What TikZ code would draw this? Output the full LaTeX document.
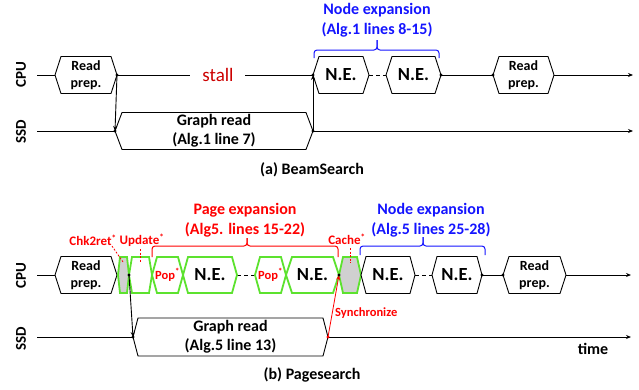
\documentclass[tikz,border=0pt]{standalone}
\usepackage{fontspec}
\setmainfont{Carlito}
\usetikzlibrary{arrows.meta}
\definecolor{gr}{RGB}{92,226,46}
\definecolor{rd}{RGB}{255,0,0}
\definecolor{drd}{RGB}{204,0,0}
\definecolor{bl}{RGB}{20,20,255}
\definecolor{gy}{RGB}{208,208,208}
\tikzset{
  hexblack/.style={draw=black, line width=0.9pt, fill=white},
  hexgreen/.style={draw=gr, line width=1.8pt, fill=white, line join=miter},
  hexgray/.style={draw=gr, line width=1.8pt, fill=gy},
  txt/.style={font=\bfseries\fontsize{14}{16.5}\selectfont, align=center, inner sep=0pt},
  netxt/.style={font=\bfseries\fontsize{18.5}{19}\selectfont, inner sep=0pt},
  grtxt/.style={font=\bfseries\fontsize{16}{19}\selectfont, align=center, inner sep=0pt},
  poptxt/.style={font=\bfseries\fontsize{12.5}{14}\selectfont, text=rd, inner sep=0pt},
  tl/.style={line width=0.9pt},
  arr/.style={line width=0.9pt, -{Stealth[length=5pt,width=4pt]}},
  dot/.style={circle, fill=black, inner sep=0pt, minimum size=3.2pt},
  axlbl/.style={font=\bfseries\fontsize{15}{16}\selectfont, rotate=90, inner sep=0pt},
  captxt/.style={font=\bfseries\fontsize{16}{18}\selectfont, inner sep=0pt},
  bigtitle/.style={font=\bfseries\fontsize{16}{20}\selectfont, align=center, inner sep=0pt},
  smallred/.style={font=\bfseries\fontsize{13}{14}\selectfont, text=rd, inner sep=0pt},
  reddash/.style={draw=rd, line width=0.8pt, dash pattern=on 2pt off 1.5pt},
  bracestyle/.style={line width=1pt, rounded corners=3pt},
  dashline/.style={line width=0.9pt, dash pattern=on 4pt off 3pt},
}
% #1 name, #2 xL, #3 xR, #4 yc, #5 half height, #6 depth, #7 style
\newcommand\hexa[7]{%
  \path[#7] (#2,#4) -- ({#2+#6},{#4-#5}) -- ({#3-#6},{#4-#5}) -- (#3,#4) -- ({#3-#6},{#4+#5}) -- ({#2+#6},{#4+#5}) -- cycle;
  \coordinate (#1-L) at (#2,#4);
  \coordinate (#1-R) at (#3,#4);
  \coordinate (#1) at ({(#2+#3)/2},#4);
}
% brace: #1 x1, #2 x2, #3 xc, #4 y horizontal, #5 y end, #6 y tip, #7 colour
\newcommand\tbrace[7]{%
  \draw[bracestyle, #7] (#1,#5) -- (#1,#4) -- (#3,#4) -- (#3,#6);
  \draw[bracestyle, #7] (#2,#5) -- (#2,#4) -- (#3,#4) -- (#3,#6);
}
\begin{document}
\begin{tikzpicture}[x=1pt, y=-1pt]
\useasboundingbox (0,0) rectangle (639,389);

% ================= (a) BeamSearch =================
\node[axlbl] (cpuA) at (21,75) {CPU};
\node[axlbl] (ssdA) at (21,132) {SSD};
\coordinate (cpuAs) at (37,75);
\coordinate (cpuAe) at (633,75);
\coordinate (ssdAs) at (37,131);
\coordinate (ssdAe) at (633,131);

\node[font=\fontsize{19}{20}\selectfont, text=drd, inner xsep=11pt, inner ysep=0pt, anchor=base] (stall) at (218,81) {stall};
\coordinate (stallW) at (190,75);
\coordinate (stallE) at (245,75);

\draw[tl] (cpuAs) -- (55,75);
\draw[tl] (117,75) -- (stallW);
\draw[tl] (stallE) -- (313,75);
\draw[dashline] (369,75) -- (386,75);
\draw[tl] (441,75) -- (493,75);
\draw[arr] (554,75) -- (cpuAe);
\draw[tl] (ssdAs) -- (115,131);
\draw[arr] (313,131) -- (ssdAe);

\hexa{rpA}{55}{117}{75}{18.5}{6}{hexblack}
\node[txt] (rpAt) at (rpA) {Read\\prep.};
\hexa{grA}{115}{313}{131}{18.5}{7}{hexblack}
\node[grtxt] (grAt) at (grA) {Graph read\\(Alg.1 line 7)};
\hexa{neA1}{313}{369}{75}{18.5}{6}{hexblack}
\node[netxt] (neA1t) at (neA1) {N.E.};
\hexa{neA2}{386}{441}{75}{18.5}{6}{hexblack}
\node[netxt] (neA2t) at (neA2) {N.E.};
\hexa{rpA2}{493}{554}{75}{18.5}{6}{hexblack}
\node[txt] (rpA2t) at (rpA2) {Read\\prep.};

\draw[arr] (rpA-R) -- (grA-L);
\draw[arr] (grA-R) -- (neA1-L);
\foreach \p in {rpA-R, grA-L, grA-R, neA1-L, neA2-R, rpA2-L}
  \node[dot] at (\p) {};

\tbrace{314}{439}{377}{50}{58}{40}{bl}
\node[bigtitle, text=bl] (neAlbl) at (377,20) {Node expansion\\(Alg.1 lines 8-15)};

\node[captxt] (capA) at (312,170) {(a) BeamSearch};

% ================= (b) Pagesearch =================
\node[axlbl] (cpuB) at (21,276) {CPU};
\node[axlbl] (ssdB) at (21,339) {SSD};
\coordinate (cpuBs) at (37,275);
\coordinate (cpuBe) at (631,275);
\coordinate (ssdBs) at (37,337);
\coordinate (ssdBe) at (631,337);

\draw[tl] (cpuBs) -- (55,275);
\draw[dashline] (237,275) -- (255,275);
\draw[dashline] (415,275) -- (432,275);
\draw[tl] (482,275) -- (503,275);
\draw[arr] (566,275) -- (cpuBe);
\draw[tl] (ssdBs) -- (133,337);
\draw[arr] (328,337) -- (ssdBe);

\hexa{rpB}{55}{117}{275}{18.5}{6}{hexblack}
\node[txt] (rpBt) at (rpB) {Read\\prep.};
\hexa{chk}{118}{129}{275}{18}{2}{hexgray}
\hexa{upd}{129}{152}{275}{18}{3}{hexgreen}
\hexa{popA}{152}{183}{275}{18}{5}{hexgreen}
\node[poptxt] (popAt) at (popA) {Pop\textsuperscript{*}};
\hexa{neB1}{183}{237}{275}{18}{5}{hexgreen}
\node[netxt] (neB1t) at (neB1) {N.E.};
\hexa{popB}{255}{286}{275}{18}{5}{hexgreen}
\node[poptxt] (popBt) at (popB) {Pop\textsuperscript{*}};
\hexa{neB2}{286}{339}{275}{18}{6}{hexgreen}
\node[netxt] (neB2t) at (neB2) {N.E.};
\hexa{cache}{339}{361}{275}{18}{4}{hexgray}
\hexa{neB3}{361}{415}{275}{18.5}{5}{hexblack}
\node[netxt] (neB3t) at (neB3) {N.E.};
\hexa{neB4}{432}{482}{275}{18.5}{5}{hexblack}
\node[netxt] (neB4t) at (neB4) {N.E.};
\hexa{rpB2}{503}{566}{275}{18.5}{6}{hexblack}
\node[txt] (rpB2t) at (rpB2) {Read\\prep.};
\hexa{grB}{133}{328}{337}{19}{5}{hexblack}
\node[grtxt] (grBt) at (grB) {Graph read\\(Alg.5 line 13)};

\draw[arr] (chk-R) -- (grB-L);
\draw[arr, draw=rd, line width=0.8pt] (grB-R) -- (neB2-R);
\foreach \p in {chk-R, grB-L, neB2-R, neB4-R, rpB2-L}
  \node[dot] at (\p) {};
\node[dot, fill=rd] at (grB-R) {};

% labels
\node[smallred] (chklbl) at (93,240) {Chk2ret\textsuperscript{*}};
\node[smallred] (updlbl) at (142,240) {Update\textsuperscript{*}};
\node[smallred] (cachelbl) at (347,239) {Cache\textsuperscript{*}};
\coordinate (chkdashA) at (112,246);
\coordinate (chkdashB) at (123,262);
\coordinate (upddashA) at (140,249);
\coordinate (upddashB) at (140,263);
\coordinate (cachedashA) at (350,248);
\coordinate (cachedashB) at (350,263);
\draw[reddash] (chkdashA) -- (chkdashB);
\draw[reddash] (upddashA) -- (upddashB);
\draw[reddash] (cachedashA) -- (cachedashB);

\tbrace{152}{338}{247}{246}{257}{238}{rd}
\node[bigtitle, text=rd] (pelbl) at (245,220) {Page expansion\\(Alg5. lines 15-22)};
\tbrace{360}{485}{423}{246}{255}{237}{bl}
\node[bigtitle, text=bl] (neBlbl) at (431,220) {Node expansion\\(Alg.5 lines 25-28)};

\node[font=\bfseries\fontsize{12.5}{14}\selectfont, text=rd, inner sep=0pt, anchor=west] (sync) at (335,313) {Synchronize};
\node[captxt] (time) at (593,349) {time};
\node[captxt] (capB) at (312,375) {(b) Pagesearch};
\end{tikzpicture}
\end{document}
